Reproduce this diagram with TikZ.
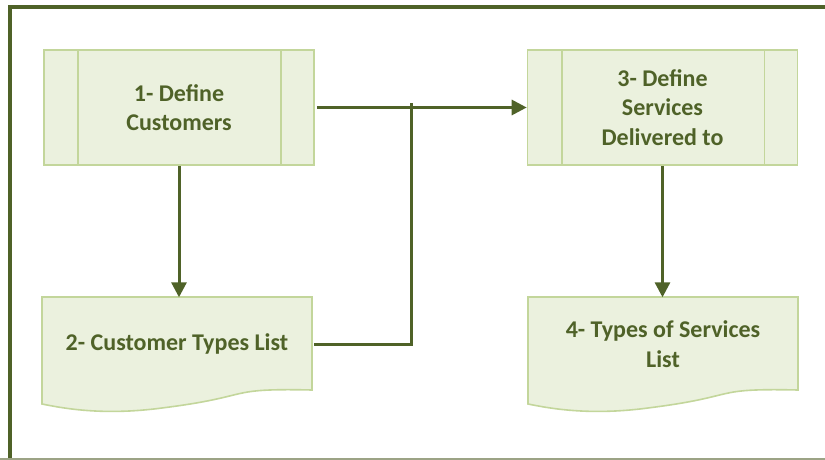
\documentclass[tikz,border=0pt]{standalone}
\usepackage{fontspec}
\setmainfont{Carlito}
\usetikzlibrary{arrows.meta}
\definecolor{ink}{HTML}{4F6228}
\definecolor{boxfill}{HTML}{EBF1DE}
\definecolor{boxedge}{HTML}{C3D69B}
\definecolor{baserule}{HTML}{9CA385}
\begin{document}
\begin{tikzpicture}[x=1pt,y=-1pt,
  every node/.style={font=\bfseries\fontsize{24}{29.5}\selectfont, text=ink, align=center, inner sep=0pt},
  procbox/.style={minimum width=270pt, minimum height=115pt, fill=boxfill, draw=boxedge, line width=1.6pt},
  docbox/.style={minimum width=270pt, minimum height=93pt, draw=none},
  divider/.style={draw=boxedge, line width=1.6pt},
  docshape/.style={fill=boxfill, draw=boxedge, line width=1.6pt},
  flow/.style={draw=ink, line width=3pt, -{Triangle[length=15pt,width=15pt]}},
  link/.style={draw=ink, line width=3pt},
  frame/.style={draw=ink, line width=4pt}]
\useasboundingbox (0,0) rectangle (825,460);

% outer frame: heavy left and top rules, thin base rule
\draw[frame] (10,462) -- (10,7) -- (830,7);
\draw[draw=baserule, line width=1.5pt] (0,459) -- (825,459);

% document shapes (wavy bottom edge)
\coordinate (d2nw) at (42,297);
\coordinate (d4nw) at (528,297);
\foreach \c in {d2nw,d4nw}{
  \draw[docshape] (\c) -- ++(270,0) -- ++(0,93)
     .. controls ++(-90,-2) and ++(95,-12) .. ++(-150,18)
     .. controls ++(-60,8) and ++(20,4) .. ++(-120,-4) -- cycle;
}
\node[docbox] (d2) at (177,344) {2- Customer Types List};
\node[docbox] (d4) at (663,344) {4- Types of Services\\List};

% predefined-process boxes
\node[procbox] (p1) at (179,107.5) {1- Define\\Customers};
\node[procbox] (p3) at (662.5,107.5) {3- Define\\Services\\Delivered to};
\foreach \n in {p1,p3}{
  \draw[divider] ([xshift=35pt]\n.north west) -- ([xshift=35pt]\n.south west);
  \draw[divider] ([xshift=-34pt]\n.north east) -- ([xshift=-34pt]\n.south east);
}

% connectors
\coordinate (j) at (411,107.5);
\draw[flow] (p1.south) -- (p1.south |- d2.north);
\draw[flow] ([xshift=2pt]p1.east) -- (p3.west);
\draw[link] ([xshift=2pt]d2.east) -| ([yshift=5pt]j);
\draw[flow] (p3.south) -- (p3.south |- d4.north);
\end{tikzpicture}
\end{document}
